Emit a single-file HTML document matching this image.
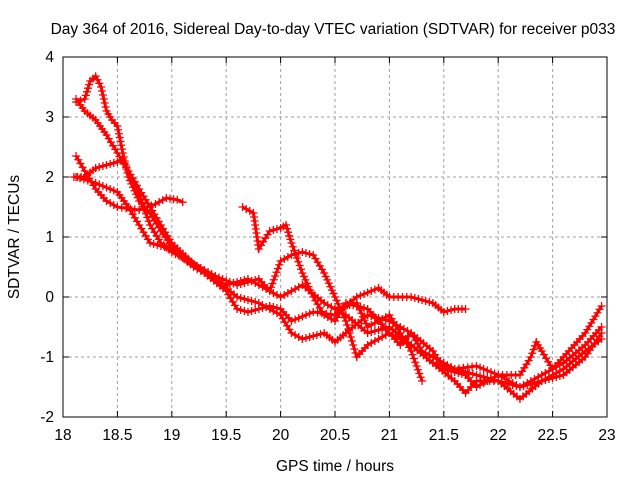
<!DOCTYPE html>
<html><head><meta charset="utf-8"><style>
body{margin:0;background:#fff}
svg{display:block;font-family:"Liberation Sans",sans-serif;font-size:15.5px}
</style></head><body>
<svg id="chart" width="640" height="480">
<rect width="640" height="480" fill="#fff"/>
<g id="grid"></g>
<g id="series"></g>
<rect x="63" y="57" width="544" height="360" fill="none" stroke="#000" stroke-width="1"/>
<g id="ticks"></g>
<text x="333" y="34" text-anchor="middle">Day 364 of 2016, Sidereal Day-to-day VTEC variation (SDTVAR) for receiver p033</text>
<text x="335" y="471" text-anchor="middle">GPS time / hours</text>
<text x="19" y="237" text-anchor="middle" transform="rotate(-90 19 237)">SDTVAR / TECUs</text>
</svg>
<script>
const xTicks=[18,18.5,19,19.5,20,20.5,21,21.5,22,22.5,23];
const xTickLabels=["18","18.5","19","19.5","20","20.5","21","21.5","22","22.5","23"];
const yTicks=[-2,-1,0,1,2,3,4];
const yTickLabels=["-2","-1","0","1","2","3","4"];
const seriesA=[[18.12,3.25],[18.2,3.3],[18.25,3.6],[18.3,3.68],[18.35,3.5],[18.4,3.1],[18.45,2.95],[18.5,2.85],[18.55,2.4],[18.6,2.0],[18.7,1.6],[18.8,1.4],[18.9,1.1],[19.0,0.85],[19.1,0.7],[19.3,0.4],[19.5,0.1],[19.6,-0.2],[19.7,-0.25],[19.9,-0.15],[20.0,-0.2],[20.1,-0.4],[20.3,-0.25],[20.5,-0.3],[20.7,0.0],[20.9,0.15],[21.0,0.0],[21.2,0.0],[21.4,-0.1],[21.5,-0.25],[21.6,-0.2],[21.7,-0.2]];
const seriesB=[[18.12,3.3],[18.2,3.1],[18.3,2.95],[18.4,2.7],[18.5,2.4],[18.6,2.1],[18.7,1.8],[18.8,1.5],[18.9,1.2],[19.0,0.9],[19.2,0.55],[19.4,0.3],[19.5,0.2],[19.7,0.3],[19.8,0.2],[20.0,0.0],[20.2,0.2],[20.4,-0.1],[20.6,-0.3],[20.8,-0.6],[21.0,-0.5],[21.2,-0.8],[21.4,-1.1],[21.6,-1.2],[21.8,-1.3],[22.0,-1.4],[22.2,-1.5],[22.4,-1.3],[22.6,-1.1],[22.8,-0.8],[22.95,-0.5]];
const seriesC=[[18.12,2.35],[18.2,2.1],[18.3,1.8],[18.4,1.6],[18.5,1.5],[18.7,1.45],[18.85,1.55],[18.95,1.65],[19.05,1.62],[19.1,1.58]];
const seriesD=[[18.12,2.0],[18.3,1.9],[18.5,1.75],[18.6,1.5],[18.7,1.2],[18.8,0.9],[19.0,0.8],[19.2,0.5],[19.4,0.3],[19.6,0.0],[19.8,-0.1],[20.0,-0.3],[20.1,-0.6],[20.2,-0.7],[20.4,-0.6],[20.5,-0.75],[20.6,-0.6],[20.8,-0.3],[21.0,-0.4],[21.2,-0.6],[21.4,-0.9],[21.5,-1.2],[21.7,-1.3],[21.8,-1.5],[22.0,-1.3],[22.2,-1.5],[22.4,-1.4],[22.6,-1.2],[22.8,-0.9],[22.95,-0.7]];
const seriesE=[[18.1,2.0],[18.2,2.0],[18.3,2.15],[18.4,2.2],[18.5,2.25],[18.55,2.3],[18.6,2.1],[18.7,1.7],[18.8,1.2],[18.9,0.9],[19.0,0.75],[19.2,0.55],[19.4,0.35],[19.6,0.2],[19.8,0.3],[19.9,0.1],[20.0,0.6],[20.1,0.7],[20.2,0.75],[20.3,0.7],[20.4,0.4],[20.5,0.0],[20.6,-0.4],[20.7,-1.0],[20.8,-0.8],[21.0,-0.6],[21.2,-0.8],[21.4,-1.1],[21.6,-1.4],[21.7,-1.6],[21.8,-1.4],[22.0,-1.4],[22.2,-1.7],[22.4,-1.4],[22.6,-1.3],[22.8,-1.0],[22.95,-0.6]];
const seriesF=[[19.65,1.5],[19.75,1.4],[19.8,0.8],[19.9,1.1],[20.0,1.15],[20.05,1.2],[20.1,0.9],[20.2,0.4],[20.3,0.0],[20.4,-0.3],[20.5,-0.4],[20.6,-0.1],[20.8,-0.2],[21.0,-0.6],[21.1,-0.8],[21.2,-0.6],[21.3,-0.9],[21.5,-1.1],[21.6,-1.2],[21.8,-1.15],[22.0,-1.3],[22.2,-1.3],[22.3,-1.0],[22.35,-0.75],[22.4,-0.9],[22.5,-1.2],[22.6,-1.0],[22.8,-0.6],[22.95,-0.15]];
const seriesG=[[20.5,-0.2],[20.7,-0.1],[20.8,-0.5],[21.0,-0.3],[21.1,-0.6],[21.2,-0.9],[21.3,-1.4]];
const allSeries=[seriesA,seriesB,seriesC,seriesD,seriesE,seriesF,seriesG];
const seriesNames=["a","b","c","d","e","f","g"];

const X0=63,X1=607,Y0=417,Y1=57;
const xs=v=>X0+(v-18)/(23-18)*(X1-X0);
const ys=v=>Y0-(v+2)/(4+2)*(Y0-Y1);
const NS="http://www.w3.org/2000/svg";
function mk(t,a,p){const e=document.createElementNS(NS,t);for(const k in a)e.setAttribute(k,a[k]);p.appendChild(e);return e;}
const grid=document.getElementById('grid'),ticks=document.getElementById('ticks'),sg=document.getElementById('series');
xTicks.forEach((t,i)=>{const x=xs(t);
 if(i>0&&i<xTicks.length-1){const g=mk('line',{x1:x,x2:x,y1:Y1,y2:Y0,stroke:'#a0a0a0','stroke-dasharray':'3,3'},grid);}
 mk('line',{x1:x,x2:x,y1:Y0,y2:Y0-6,stroke:'#000'},ticks);mk('line',{x1:x,x2:x,y1:Y1,y2:Y1+6,stroke:'#000'},ticks);
 const l=mk('text',{x:x,y:Y0+23,'text-anchor':'middle'},ticks);l.textContent=xTickLabels[i];
 });
yTicks.forEach((t,i)=>{const y=ys(t);
 if(i>0&&i<yTicks.length-1){const g=mk('line',{x1:X0,x2:X1,y1:y,y2:y,stroke:'#a0a0a0','stroke-dasharray':'3,3'},grid);}
 mk('line',{x1:X0,x2:X0+6,y1:y,y2:y,stroke:'#000'},ticks);mk('line',{x1:X1,x2:X1-6,y1:y,y2:y,stroke:'#000'},ticks);
 const l=mk('text',{x:X0-9,y:y+5,'text-anchor':'end'},ticks);l.textContent=yTickLabels[i];
 });
allSeries.forEach((s,si)=>{
 const g=mk('g',{},sg);
 
 
 let d='';
 for(let i=0;i<s.length;i++){d+=(i?'L':'M')+xs(s[i][0])+','+ys(s[i][1]);}
 mk('path',{d:d,fill:'none',stroke:'#f00','stroke-width':3},g);
 let md='';
 for(let i=0;i<s.length-1;i++){const ax=xs(s[i][0]),ay=ys(s[i][1]),bx=xs(s[i+1][0]),by=ys(s[i+1][1]);
  const n=Math.max(1,Math.round(Math.hypot(bx-ax,by-ay)/4));
  for(let k=0;k<n;k++){const x=ax+(bx-ax)*k/n,y=ay+(by-ay)*k/n;md+='M'+(x-4)+','+y+'h8M'+x+','+(y-4)+'v8';}}
 const l=s[s.length-1];const x=xs(l[0]),y=ys(l[1]);md+='M'+(x-4)+','+y+'h8M'+x+','+(y-4)+'v8';
 mk('path',{d:md,fill:'none',stroke:'#f00','stroke-width':1.3},g);
});
</script>
</body></html>
